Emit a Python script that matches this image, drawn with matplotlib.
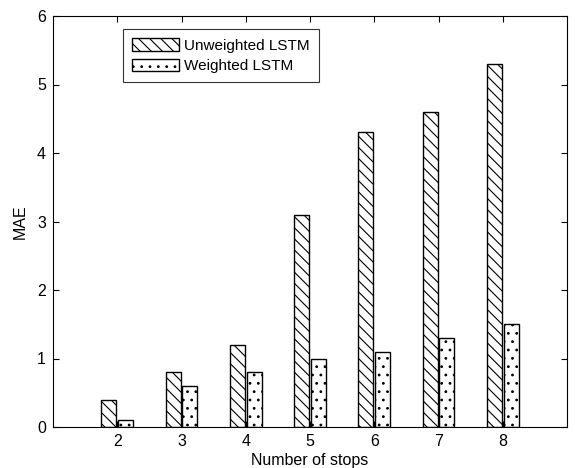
import numpy as np
import matplotlib
matplotlib.use("Agg")
import matplotlib.pyplot as plt

stops = [2, 3, 4, 5, 6, 7, 8]
unweighted = [0.4, 0.8, 1.2, 3.1, 4.3, 4.6, 5.3]
weighted = [0.1, 0.6, 0.8, 1.0, 1.1, 1.3, 1.5]

plt.rcParams['font.family'] = ['Liberation Sans', 'DejaVu Sans']
plt.rcParams['font.size'] = 11.5
plt.rcParams['hatch.linewidth'] = 0.8

fig = plt.figure(figsize=(5.75, 4.68), dpi=100)
ax = fig.add_axes([53/575, 1 - 427/468, 514/575, 411/468])

x = np.array(stops)
w = 0.235
ax.bar(x - 0.13, unweighted, w, color='white', edgecolor='black', hatch='\\\\\\',
       linewidth=1.0, label='Unweighted LSTM')
ax.bar(x + 0.13, weighted, w, color='white', edgecolor='black', hatch='..',
       linewidth=1.0, label='Weighted LSTM')

ax.set_xlim(1, 9)
ax.set_ylim(0, 6)
ax.set_xticks(stops)
ax.set_yticks(range(7))
ax.tick_params(direction='in', length=4, width=0.8, top=True, right=True, pad=5)
for s in ax.spines.values():
    s.set_linewidth(0.8)
ax.set_xlabel('Number of stops', labelpad=3)
ax.set_ylabel('MAE', labelpad=7)

leg = ax.legend(loc='upper left', bbox_to_anchor=(0.136, 0.968), frameon=True,
                fancybox=False, edgecolor='black', borderpad=0.6,
                handlelength=3.1, handleheight=0.85, labelspacing=0.4,
                handletextpad=0.3, borderaxespad=0, fontsize=11)
leg.get_frame().set_linewidth(0.8)

fig.savefig('out.png', dpi=100)
